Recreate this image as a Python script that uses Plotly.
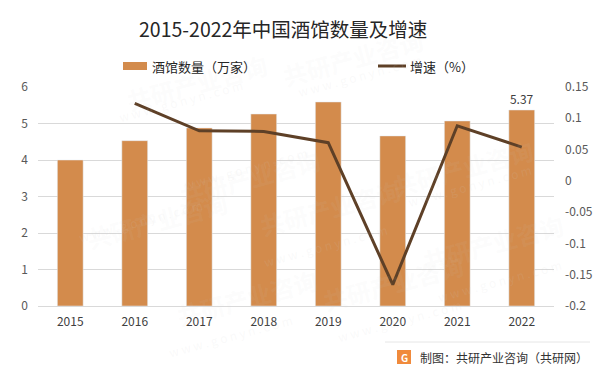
import plotly.graph_objects as go

years = ["2015", "2016", "2017", "2018", "2019", "2020", "2021", "2022"]
bar_values = [4.00, 4.53, 4.88, 5.26, 5.59, 4.66, 5.07, 5.37]
growth_years = ["2016", "2017", "2018", "2019", "2020", "2021", "2022"]
growth_values = [0.124, 0.080, 0.079, 0.061, -0.166, 0.088, 0.054]
left_ticks = [0, 1, 2, 3, 4, 5, 6]
right_tickvals = [-0.2, -0.15, -0.1, -0.05, 0, 0.05, 0.1, 0.15]
right_ticktext = ["-0.2", "-0.15", "-0.1", "-0.05", "0", "0.05", "0.1", "0.15"]
title_text = "2015-2022年中国酒馆数量及增速"
legend_bar = "酒馆数量（万家）"
legend_line = "增速（%）"
source_text = "制图：共研产业咨询（共研网）"

FONT = "Noto Sans CJK SC, Microsoft YaHei, sans-serif"
BAR_C = "#d38b4c"
LINE_C = "#5e4027"

# page body has an 8px margin; figure is sized/offset to compensate
OFF = 8
W, H = 601 - OFF, 375 - OFF
PL, PR, PT, PB = 38, 554, 87, 306  # plot area in screen pixels
L, R, T, B = PL - OFF, W - (PR - OFF), PT - OFF, H - (PB - OFF)

fig = go.Figure()
fig.add_trace(go.Bar(
    x=years, y=bar_values, marker_color=BAR_C, width=0.4,
    text=[""] * 7 + [f"{bar_values[-1]:.2f}"], textposition="outside",
    textfont=dict(size=12, color="#404040", family=FONT),
    cliponaxis=False, showlegend=False, yaxis="y"))
fig.add_trace(go.Scatter(
    x=growth_years, y=growth_values, mode="lines",
    line=dict(color=LINE_C, width=3), showlegend=False, yaxis="y2"))

fig.update_layout(
    width=W, height=H,
    margin=dict(l=L, r=R, t=T, b=B, pad=0, autoexpand=False),
    paper_bgcolor="white", plot_bgcolor="white",
    font=dict(family=FONT, size=12, color="#595959"),
    xaxis=dict(type="category", showgrid=False, showline=True, linecolor="#d9d9d9",
               ticks="", tickfont=dict(size=12, color="#404040"), ticklabelstandoff=5,
               automargin=False),
    yaxis=dict(range=[0, 6], tickvals=left_ticks, showgrid=True, gridcolor="#d9d9d9",
               gridwidth=1, zeroline=False, showline=False, ticks="",
               tickfont=dict(size=12, color="#595959"), ticklabelstandoff=9, automargin=False),
    yaxis2=dict(range=[-0.2, 0.15], overlaying="y", side="right",
                tickvals=right_tickvals, ticktext=right_ticktext,
                showgrid=False, zeroline=False, showline=False, ticks="",
                tickfont=dict(size=12, color="#595959"), ticklabelstandoff=10, automargin=False),
)

ann = []
shapes = []

def px(x):
    return (x - PL) / (PR - PL)

def py(y):
    return (PB - y) / (PB - PT)

# faint watermarks
wm_positions = [(120, 45), (430, 20), (250, 140), (540, 130), (80, 220), (330, 245), (570, 280), (170, 335), (470, 320)]
for (x, y) in wm_positions:
    ann.append(dict(text="<b>共研产业咨询</b>", x=px(x), y=py(y), xref="paper", yref="paper",
                    showarrow=False, textangle=-15, font=dict(size=24, color="rgba(210,210,210,0.08)", family=FONT)))
    ann.append(dict(text="w w w . g o n y n . c o m", x=px(x - 5), y=py(y + 28), xref="paper", yref="paper",
                    showarrow=False, textangle=-15, font=dict(size=12, color="rgba(210,210,210,0.12)", family=FONT)))

# title
ann.append(dict(text=title_text, x=px(283), y=py(29), xref="paper", yref="paper", showarrow=False,
                font=dict(size=19.5, color="#262626", family=FONT), xanchor="center", yanchor="middle"))
# legend
shapes.append(dict(type="rect", xref="paper", yref="paper", x0=px(123), x1=px(147), y0=py(62), y1=py(70),
                   fillcolor=BAR_C, line=dict(width=0)))
ann.append(dict(text=legend_bar, x=px(150), y=py(66), xref="paper", yref="paper", showarrow=False,
                xanchor="left", yanchor="middle", font=dict(size=13, color="#262626", family=FONT)))
shapes.append(dict(type="line", xref="paper", yref="paper", x0=px(378), x1=px(406), y0=py(66), y1=py(66),
                   line=dict(color=LINE_C, width=3)))
ann.append(dict(text=legend_line, x=px(408), y=py(66), xref="paper", yref="paper", showarrow=False,
                xanchor="left", yanchor="middle", font=dict(size=13, color="#262626", family=FONT)))

# source footer
shapes.append(dict(type="line", xref="paper", yref="paper", x0=px(385), x1=px(590), y0=py(342), y1=py(342),
                   line=dict(color="#e6e6e6", width=1)))
shapes.append(dict(type="rect", xref="paper", yref="paper", x0=px(397), x1=px(411), y0=py(350), y1=py(364),
                   fillcolor="#f08a3c", line=dict(width=0)))
ann.append(dict(text="<b>G</b>", x=px(404), y=py(357), xref="paper", yref="paper", showarrow=False,
                xanchor="center", yanchor="middle", font=dict(size=10, color="white", family=FONT)))
ann.append(dict(text=source_text, x=px(418), y=py(357), xref="paper", yref="paper", showarrow=False,
                xanchor="left", yanchor="middle", font=dict(size=12, color="#333333", family=FONT)))

fig.update_layout(annotations=ann, shapes=shapes)
fig.write_html("out.html")
